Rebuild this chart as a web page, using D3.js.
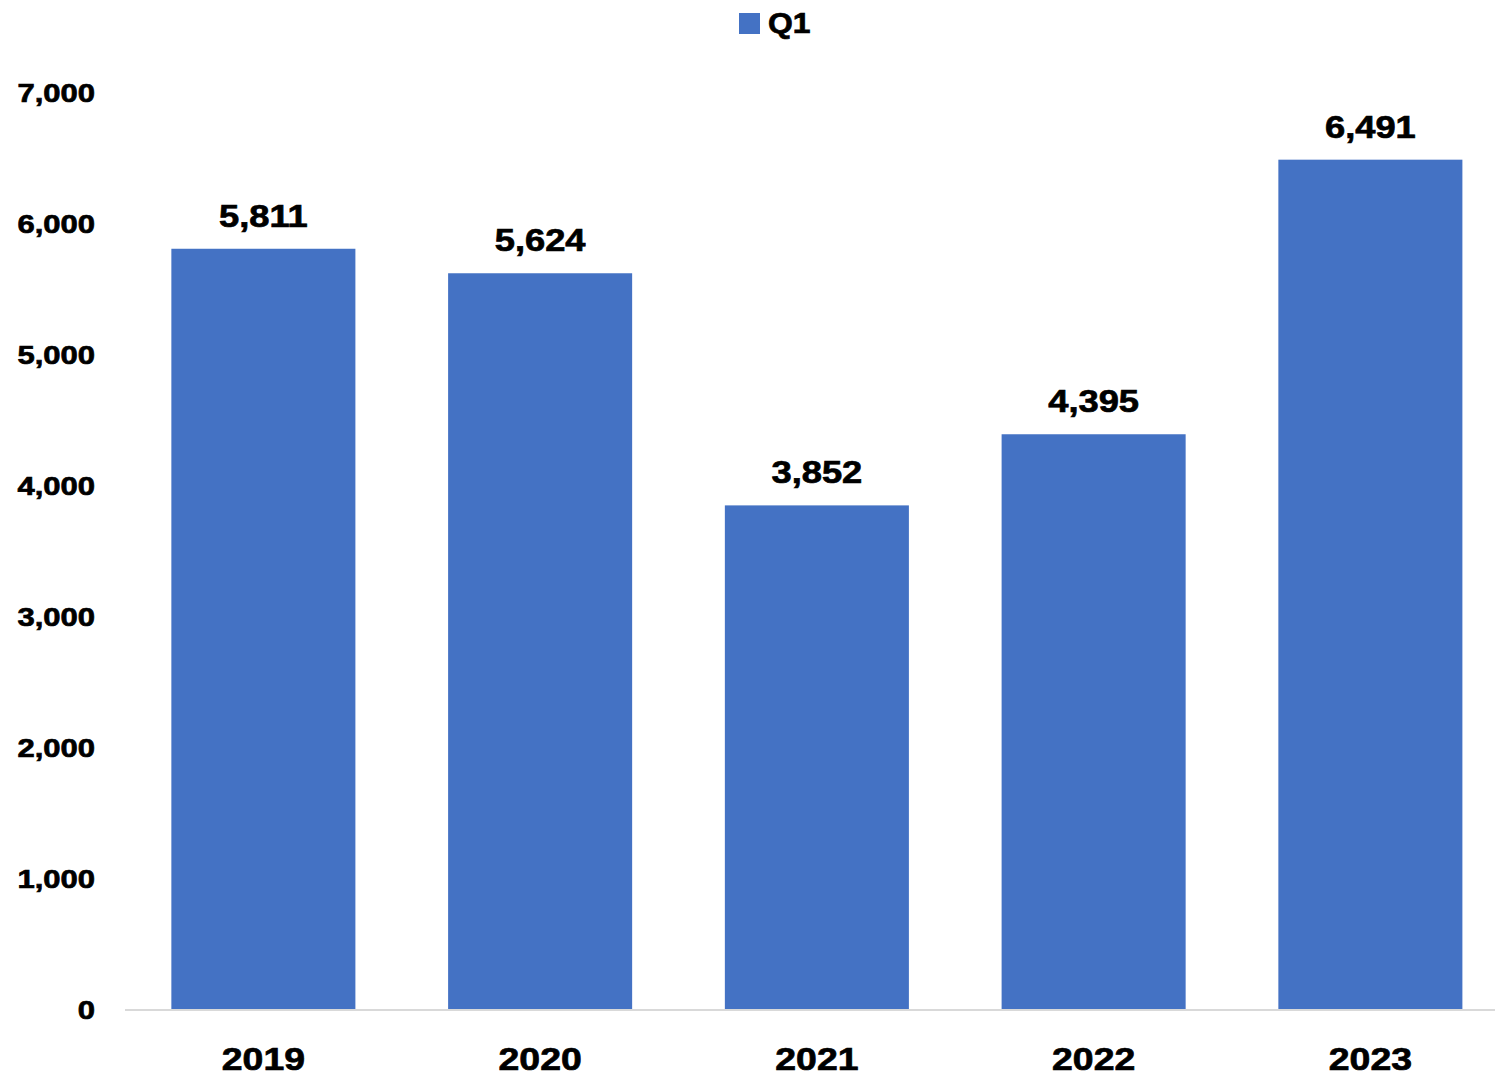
<!DOCTYPE html>
<html>
<head>
<meta charset="utf-8">
<script src="https://cdn.jsdelivr.net/npm/d3@7"></script>
<style>
  html, body { margin: 0; padding: 0; background: #ffffff; }
  svg text { font-family: "Liberation Sans", Arial, sans-serif; font-weight: bold; fill: #000; stroke: #000; stroke-width: 0.7px; }
</style>
</head>
<body>
<svg id="chart" width="1495" height="1076"></svg>
<script>
// Quarterly (Q1) totals by year
const years = ["2019", "2020", "2021", "2022", "2023"];
const q1Values = [5811, 5624, 3852, 4395, 6491];
const yTicks = [0, 1000, 2000, 3000, 4000, 5000, 6000, 7000];
const seriesName = "Q1";

const barColor = "#4472C4";
const svg = d3.select("#chart");

const x = d3.scaleBand()
  .domain(years)
  .range([125, 1508.75])
  .paddingInner(0.335)
  .paddingOuter(0.1675);

const y = d3.scaleLinear()
  .domain([0, 7000])
  .range([1010, 93]);

// wide bold lettering
function wideText(sel, sx) {
  sel.attr("transform", function () {
    const tx = +this.getAttribute("data-x"), ty = +this.getAttribute("data-y");
    return `translate(${tx},${ty}) scale(${sx},1)`;
  });
}

// y tick labels
svg.append("g").selectAll("text")
  .data(yTicks)
  .join("text")
  .attr("data-x", 95)
  .attr("data-y", d => y(d))
  .attr("text-anchor", "end")
  .attr("dominant-baseline", "central")
  .attr("font-size", 26.5)
  .text(d => d3.format(",")(d))
  .call(wideText, 1.17);

// bars
svg.append("g").selectAll("rect")
  .data(q1Values)
  .join("rect")
  .attr("x", (d, i) => x(years[i]))
  .attr("width", x.bandwidth())
  .attr("y", d => y(d))
  .attr("height", d => y(0) - y(d))
  .attr("fill", barColor);

// baseline
svg.append("line")
  .attr("x1", 125).attr("x2", 1495)
  .attr("y1", y(0)).attr("y2", y(0))
  .attr("stroke", "#d9d9d9")
  .attr("stroke-width", 2);

// value labels
svg.append("g").selectAll("text")
  .data(q1Values)
  .join("text")
  .attr("data-x", (d, i) => x(years[i]) + x.bandwidth() / 2)
  .attr("data-y", d => y(d) - 22)
  .attr("text-anchor", "middle")
  .attr("font-size", 30.5)
  .text(d => d3.format(",")(d))
  .call(wideText, 1.19);

// category labels
svg.append("g").selectAll("text")
  .data(years)
  .join("text")
  .attr("data-x", d => x(d) + x.bandwidth() / 2)
  .attr("data-y", 1070)
  .attr("text-anchor", "middle")
  .attr("font-size", 32)
  .text(d => d)
  .call(wideText, 1.17);

// legend
const legend = svg.append("g");
legend.append("rect")
  .attr("x", 739).attr("y", 13)
  .attr("width", 21).attr("height", 21)
  .attr("fill", barColor);
legend.append("text")
  .attr("data-x", 768).attr("data-y", 33)
  .attr("font-size", 29.5)
  .text(seriesName)
  .call(wideText, 1.08);
</script>
</body>
</html>
